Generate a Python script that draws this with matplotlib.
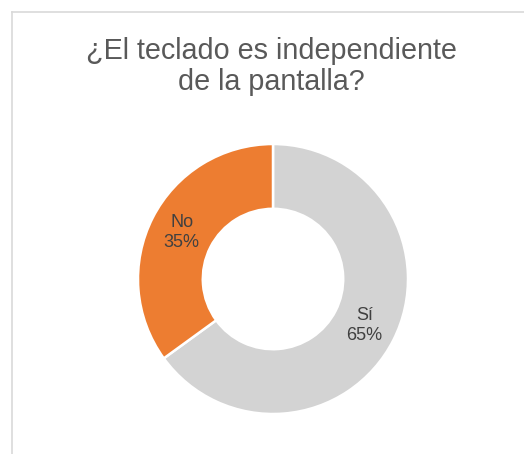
import matplotlib.pyplot as plt
from matplotlib.lines import Line2D
import numpy as np

title = "¿El teclado es independiente\nde la pantalla?"
labels = ["Sí", "No"]
shares = [65, 35]
colors = ["#D3D3D3", "#ED7D31"]

W, H = 524, 454
fig = plt.figure(figsize=(W / 100, H / 100), dpi=100)
fig.patch.set_facecolor("white")

# chart area border (only left and top edges are visible)
fig.add_artist(Line2D([11.5 / W, 11.5 / W], [0, 1 - 11.5 / H],
                      transform=fig.transFigure, color="#D9D9D9", lw=1.2))
fig.add_artist(Line2D([11.5 / W, 1], [1 - 11.5 / H, 1 - 11.5 / H],
                      transform=fig.transFigure, color="#D9D9D9", lw=1.2))

fig.text(271 / W, 1 - 90 / H, title, ha="center", va="baseline",
         fontsize=20.7, color="#595959", family="Liberation Sans", linespacing=1.13)

cx, cy, r = 273, 175, 135
ax = fig.add_axes([(cx - r) / W, (cy - r) / H, 2 * r / W, 2 * r / H])
wedges, _ = ax.pie(shares, colors=colors, startangle=90, counterclock=False,
                   radius=1, wedgeprops=dict(width=0.48, edgecolor="white", linewidth=1.8))
ax.set_xlim(-1, 1)
ax.set_ylim(-1, 1)
ax.set_aspect("equal")
ax.axis("off")

for w, lab, val in zip(wedges, labels, shares):
    mid = np.deg2rad((w.theta1 + w.theta2) / 2)
    rr = 0.76
    ax.text(rr * np.cos(mid), rr * np.sin(mid), f"{lab}\n{val}%",
            ha="center", va="center", fontsize=13, color="#404040",
            family="Liberation Sans", linespacing=1.2)

fig.savefig("out.png", dpi=100)
